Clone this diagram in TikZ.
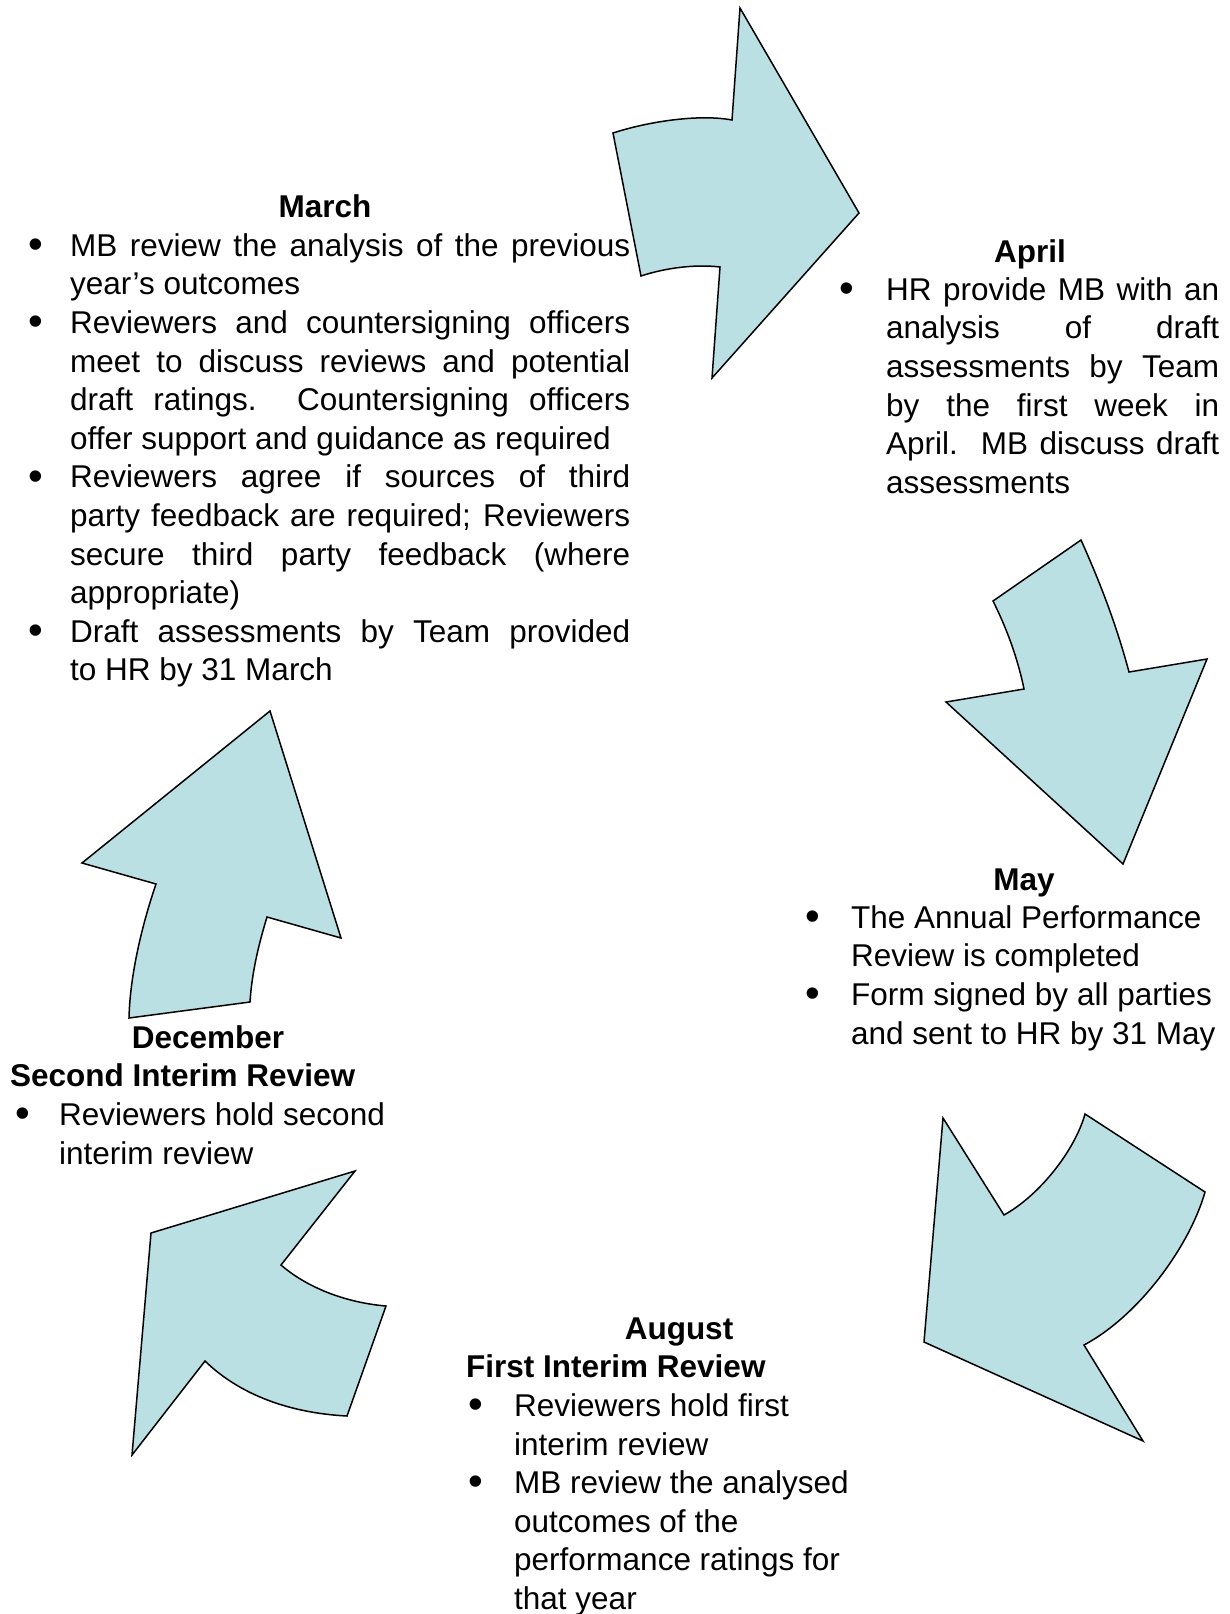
\documentclass[tikz,border=0pt]{standalone}
\usepackage{fontspec}
\setmainfont{Liberation Sans}
\newcommand{\bodyfont}{\fontsize{31.5}{38.6}\selectfont}
\newcommand{\bulfont}{\fontsize{42}{42}\selectfont}
\definecolor{arrowfill}{RGB}{187,224,227}
\begin{document}
\begin{tikzpicture}[x=1pt,y=-1pt,
  arrowshape/.style={fill=arrowfill, draw=black, line width=1.5pt, line join=miter},
  body/.style={font=\bodyfont, inner sep=0pt, text=black},
  para/.style={body, anchor=north west, yshift=27.02pt, align=justify},
  ragged/.style={body, anchor=north west, yshift=27.02pt, align=left},
  head/.style={body, font=\bodyfont\bfseries, anchor=base},
  headleft/.style={body, font=\bodyfont\bfseries, anchor=base west},
  bul/.style={body, font=\bulfont, anchor=base, yshift=-2.5pt}]
\useasboundingbox (0,0) rectangle (1229,1614);

% arrow 1 (top, pointing right)
\path[arrowshape] (740,8) -- (859,213) -- (712,378) -- (720,267)
  .. controls (695,264) and (665,268) .. (641,276) -- (613,133)
  .. controls (650,121) and (700,114) .. (732,120) -- cycle;
% arrow 2 (right, pointing down)
\path[arrowshape] (1081,540) -- (993,601)
  .. controls (1005,625) and (1017,655) .. (1024,689) -- (946,702) -- (1123,864)
  -- (1207,659) -- (1129,672) .. controls (1115,620) and (1098,578) .. cycle;
% arrow 3 (bottom right, pointing down-left)
\path[arrowshape] (943,1118) -- (1004,1215)
  .. controls (1040,1195) and (1075,1150) .. (1085,1114) -- (1205,1192)
  .. controls (1190,1245) and (1140,1315) .. (1084,1345) -- (1143,1441)
  -- (924,1342) -- cycle;
% arrow 4 (bottom left, pointing up-left)
\path[arrowshape] (355,1171) -- (281,1265)
  .. controls (310,1290) and (350,1303) .. (386,1306) -- (347,1416)
  .. controls (290,1413) and (240,1395) .. (205,1361) -- (132,1455)
  -- (151,1233) -- cycle;
% arrow 5 (left, pointing up)
\path[arrowshape] (270,711) -- (341,938) -- (267,917)
  .. controls (260,940) and (252,970) .. (250,1002) -- (129,1018)
  .. controls (130,975) and (142,925) .. (156,884) -- (82,863) -- cycle;

% March
\node[head] (marH) at (325,217.4) {March};
\node[bul] (marB1) at (36,256) {•};
\node[para, text width=560pt] (mar1) at (70,256) {\strut MB review the analysis of the previous\linebreak year’s outcomes};
\node[bul] (marB2) at (36,333.2) {•};
\node[para, text width=560pt] (mar2) at (70,333.2) {\strut Reviewers and countersigning officers\linebreak meet to discuss reviews and potential\linebreak draft ratings.\ \ Countersigning officers\linebreak offer support and guidance as required};
\node[bul] (marB3) at (36,487.6) {•};
\node[para, text width=560pt] (mar3) at (70,487.6) {\strut Reviewers agree if sources of third\linebreak party feedback are required; Reviewers\linebreak secure third party feedback (where\linebreak appropriate)};
\node[bul] (marB4) at (36,642) {•};
\node[para, text width=560pt] (mar4) at (70,642) {\strut Draft assessments by Team provided\linebreak to HR by 31 March};

% April
\node[head] (aprH) at (1030,262) {April};
\node[bul] (aprB1) at (847,300) {•};
\node[para, text width=333pt] (apr1) at (886,300) {\strut HR provide MB with an\linebreak analysis of draft\linebreak assessments by Team\linebreak by the first week in\linebreak April.\ \ MB discuss draft\linebreak assessments};

% May
\node[head] (mayH) at (1024,890) {May};
\node[bul] (mayB1) at (813,928) {•};
\node[ragged] (may1) at (851,928) {\strut The Annual Performance\\Review is completed};
\node[bul] (mayB2) at (813,1005.2) {•};
\node[ragged] (may2) at (851,1005.2) {\strut Form signed by all parties\\and sent to HR by 31 May};

% December
\node[head] (decH) at (208,1048) {December};
\node[headleft] (decH2) at (10,1086.6) {Second Interim Review};
\node[bul] (decB1) at (23,1125.2) {•};
\node[ragged] (dec1) at (59,1125.2) {\strut Reviewers hold second\\interim review};

% August
\node[head] (augH) at (679,1339) {August};
\node[headleft] (augH2) at (466,1377.6) {First Interim Review};
\node[bul] (augB1) at (476,1416.2) {•};
\node[ragged] (aug1) at (514,1416.2) {\strut Reviewers hold first\\interim review};
\node[bul] (augB2) at (476,1493.4) {•};
\node[ragged] (aug2) at (514,1493.4) {\strut MB review the analysed\\outcomes of the\\performance ratings for\\that year};
\end{tikzpicture}
\end{document}
